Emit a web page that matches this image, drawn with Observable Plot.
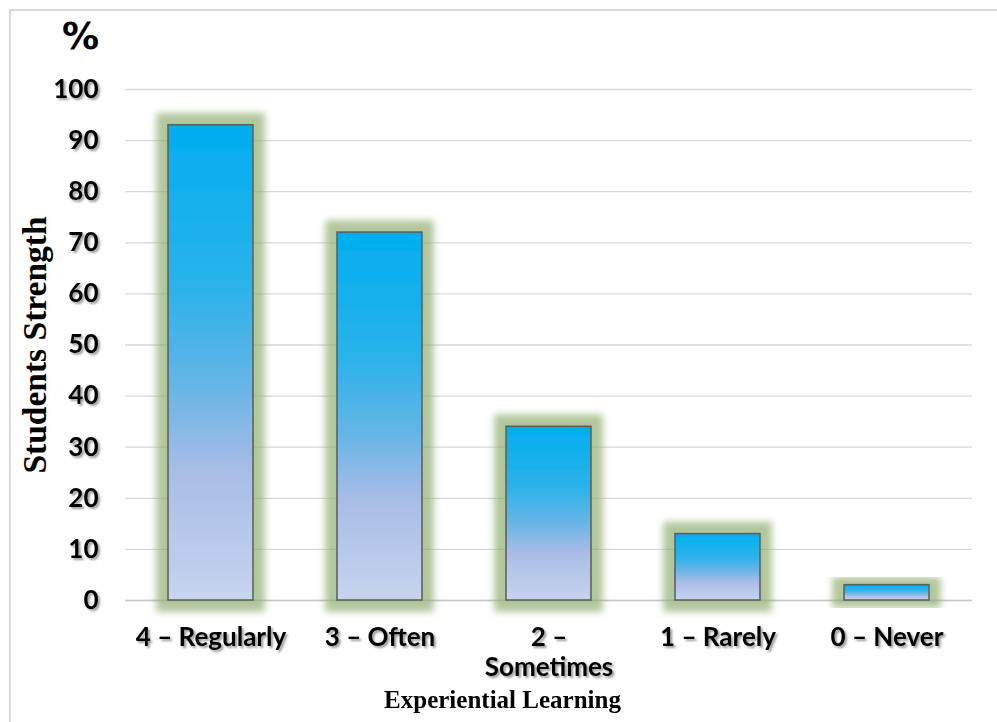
<!DOCTYPE html>
<html>
<head>
<meta charset="utf-8">
<script src="https://cdn.jsdelivr.net/npm/d3@7"></script>
<script src="https://cdn.jsdelivr.net/npm/@observablehq/plot@0.6"></script>
<style>
  html, body { margin: 0; padding: 0; background: #fff; width: 997px; height: 722px; overflow: hidden; }
  #border { position: absolute; left: 9px; top: 9px; width: 1000px; height: 720px; border-left: 2px solid #d9d9d9; border-top: 2px solid #d9d9d9; }
  #chart { position: absolute; left: 0; top: 0; }
</style>
</head>
<body>
<div id="border"></div>
<div id="chart"></div>
<script>
const categories = ["4 – Regularly", "3 – Often", "2 – Sometimes", "1 – Rarely", "0 – Never"];
const tickLabels = ["4 – Regularly", "3 – Often", "2 –\nSometimes", "1 – Rarely", "0 – Never"];
const values = [93, 72, 34, 13, 3];
const yTicks = [0, 10, 20, 30, 40, 50, 60, 70, 80, 90, 100];

const data = categories.map((c, i) => ({category: c, value: values[i]}));
const labelOf = new Map(categories.map((c, i) => [c, tickLabels[i]]));

const tickFont = "Lato, 'Open Sans', sans-serif";
const serif = "'Liberation Serif', 'Times New Roman', serif";
const chart = Plot.plot({
  width: 997,
  height: 722,
  marginLeft: 125,
  marginRight: 25,
  marginTop: 89,
  marginBottom: 122,
  style: {background: "transparent", overflow: "visible"},
  x: {domain: categories, paddingInner: 0.5, paddingOuter: 0.25, label: null},
  y: {domain: [0, 100], ticks: yTicks, label: null},
  marks: [
    Plot.gridY(yTicks, {stroke: "#d9d9d9", strokeOpacity: 1, strokeWidth: 1.3}),
    Plot.ruleY([0], {stroke: "#c8c8c8", strokeWidth: 1.5}),
    Plot.barY(data, {x: "category", y: "value", fill: "url(#barGrad)", stroke: "#5f5f5f", strokeWidth: 1.6}),
    Plot.axisY(yTicks, {tickSize: 0, tickPadding: 27, fontSize: 26, fontWeight: "bold", fontFamily: tickFont, fill: "#000", label: null}),
    Plot.axisX({tickSize: 0, tickPadding: 24, fontSize: 26, fontWeight: "bold", fontFamily: tickFont, fill: "#000", label: null, tickFormat: d => labelOf.get(d), lineHeight: 1.15}),
    Plot.text(["%"], {frameAnchor: "top-left", dx: -45, dy: -52, fontSize: 37, fontWeight: 900, fontFamily: "'DejaVu Sans', sans-serif", fill: "#000", textAnchor: "middle", lineAnchor: "middle"}),
    Plot.text(["Students Strength"], {frameAnchor: "left", dx: -90, rotate: -90, textAnchor: "middle", fontSize: 33.5, fontWeight: "bold", fontFamily: serif, fill: "#000"}),
    Plot.text(["Experiential Learning"], {frameAnchor: "bottom-left", dx: 377, dy: 107, textAnchor: "middle", fontSize: 25, fontWeight: "bold", fontFamily: serif, fill: "#000"})
  ]
});

const ns = "http://www.w3.org/2000/svg";
const defs = document.createElementNS(ns, "defs");
defs.innerHTML = `
  <linearGradient id="barGrad" x1="0" y1="0" x2="0" y2="1">
    <stop offset="0" stop-color="#00aeef"/>
    <stop offset="0.35" stop-color="#2cb2ea"/>
    <stop offset="0.55" stop-color="#66b5e6"/>
    <stop offset="0.72" stop-color="#a7bbe6"/>
    <stop offset="1" stop-color="#c7d4ee"/>
  </linearGradient>
  <filter id="glow" x="-50%" y="-50%" width="200%" height="200%" filterUnits="objectBoundingBox">
    <feMorphology in="SourceAlpha" operator="dilate" radius="11" result="dil"/>
    <feGaussianBlur in="dil" stdDeviation="3.5" result="blur"/>
    <feFlood flood-color="#87a866" flood-opacity="0.65"/>
    <feComposite in2="blur" operator="in" result="glowc"/>
    <feMerge><feMergeNode in="glowc"/><feMergeNode in="SourceGraphic"/></feMerge>
  </filter>
  <filter id="tshadow" x="-10%" y="-30%" width="120%" height="160%">
    <feGaussianBlur in="SourceAlpha" stdDeviation="1.2"/>
    <feOffset dx="1.5" dy="1.5" result="o"/>
    <feFlood flood-color="#000" flood-opacity="0.4"/>
    <feComposite in2="o" operator="in" result="s"/>
    <feMerge><feMergeNode in="s"/><feMergeNode in="SourceGraphic"/></feMerge>
  </filter>`;
chart.insertBefore(defs, chart.firstChild);
chart.querySelectorAll("g[aria-label='bar'] rect").forEach(r => r.setAttribute("filter", "url(#glow)"));
chart.querySelectorAll("g[aria-label='y-axis tick label'], g[aria-label='x-axis tick label']").forEach(g => g.setAttribute("filter", "url(#tshadow)"));
document.getElementById("chart").appendChild(chart);
</script>
</body>
</html>
